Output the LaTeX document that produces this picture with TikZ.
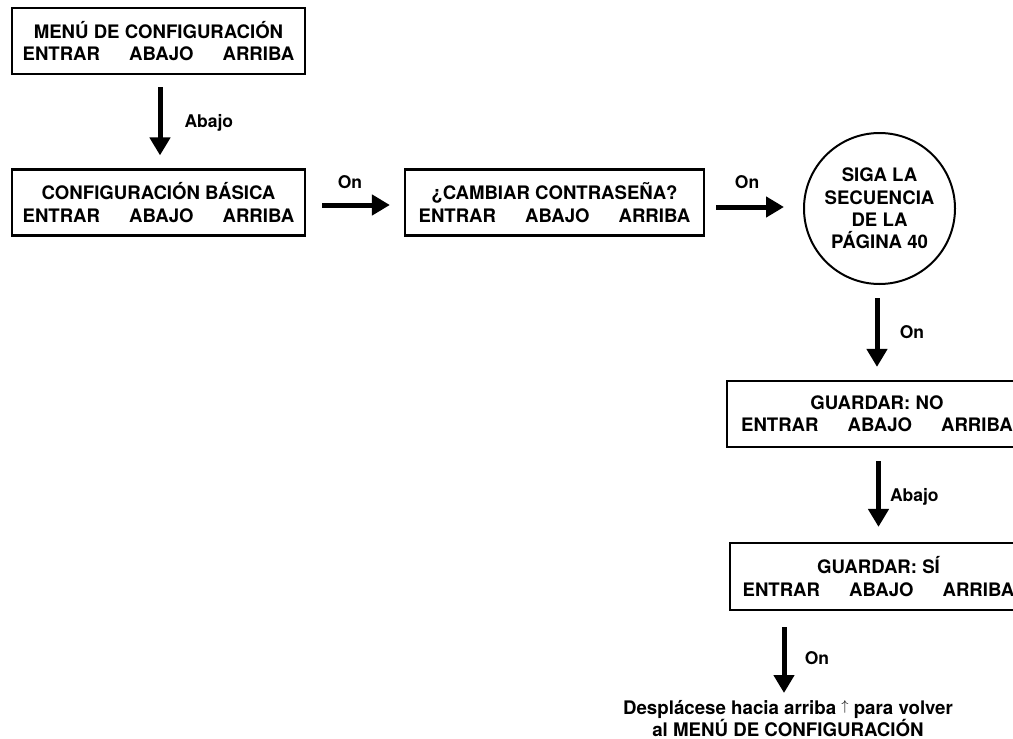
\documentclass[tikz,border=0pt]{standalone}
\usepackage{fontspec}
\setmainfont{TeX Gyre Heros}
\usetikzlibrary{arrows.meta,calc}
\newcommand\btnrow{ENTRAR\hspace{29pt}ABAJO\hspace{29pt}ARRIBA}
\newcommand\uparr{\raisebox{4.5pt}{\fontsize{15}{15}\selectfont$\uparrow$}}
\begin{document}
\begin{tikzpicture}[x=1pt,y=-1pt,
  box/.style={draw, line width=2.2pt, minimum width=293pt, minimum height=66pt,
    inner sep=0pt, align=center, font={\bfseries\fontsize{18.6}{22.4}\selectfont}},
  circ/.style={draw, circle, line width=2pt, minimum size=151pt, inner sep=0pt,
    align=center, font={\bfseries\fontsize{18.6}{22.3}\selectfont}},
  arr/.style={line width=5pt, -{Triangle[width=20pt,length=18pt]}},
  lbl/.style={inner sep=0pt, font={\bfseries\fontsize{17.5}{20}\selectfont}},
  note/.style={inner sep=0pt, align=center, font={\bfseries\fontsize{18.7}{21.5}\selectfont}}]
\useasboundingbox (0,0) rectangle (1013,739);
\clip (0,0) rectangle (1013,739);

\node[box] (b1) at (158.5,41) {MENÚ DE CONFIGURACIÓN\\\btnrow};
\node[box] (b2) at (158.5,202.5) {CONFIGURACIÓN BÁSICA\\\btnrow};
\node[box, minimum width=299pt] (b3) at (554.5,202.5) {¿CAMBIAR CONTRASEÑA?\\\btnrow};
\node[circ] (c) at (879.5,208.5) {SIGA LA\\SECUENCIA\\DE LA\\PÁGINA 40};
\node[box, minimum width=300pt] (b4) at (877,414) {GUARDAR: NO\\\btnrow};
\node[box, minimum width=297pt, minimum height=67pt] (b5) at (878.5,576.5) {GUARDAR: SÍ\\\btnrow};
\node[note, anchor=north] (n) at (788,700) {Desplácese hacia arriba \uparr{} para volver\\al MENÚ DE CONFIGURACIÓN};

\draw[arr] ($(b1.south)+(1.5,12)$) -- ($(b2.north)+(1.5,-13)$)
  node[lbl, midway, anchor=west, xshift=22pt, yshift=-2pt] {Abajo};
\draw[arr] ($(b2.east)+(16,2.5)$) -- ($(b3.west)+(-14,2.5)$)
  node[lbl, midway, xshift=-6pt, yshift=23pt] {On};
\draw[arr] ($(b3.east)+(11,4.5)$) -- ($(b3.east -| c.west)+(-19,4.5)$)
  node[lbl, midway, xshift=-3pt, yshift=25pt] {On};
\draw[arr] ($(b4.north |- c.south)+(0,13)$) -- ($(b4.north)+(0,-13)$)
  node[lbl, midway, xshift=35pt] {On};
\draw[arr] ($(b5.north |- b4.south)+(0,13)$) -- ($(b5.north)+(0,-15)$)
  node[lbl, midway, anchor=west, xshift=9pt, yshift=-3pt] {Abajo};
\draw[arr] ($(b5.south -| n.north)+(-4,16)$) -- ($(n.north)+(-4,-7)$)
  node[lbl, midway, xshift=33pt, yshift=2pt] {On};
\end{tikzpicture}
\end{document}
